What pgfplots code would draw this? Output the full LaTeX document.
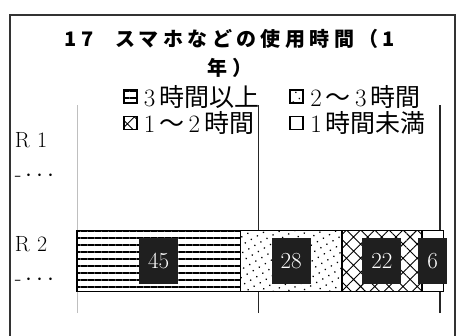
\documentclass[border=0pt]{standalone}
\usepackage{fontspec}
\usepackage{pgfplots}
\pgfplotsset{compat=1.18}
\usetikzlibrary{patterns.meta}
\newfontfamily\cjk{Noto Sans CJK JP}
\newfontfamily\cjktitle[LetterSpace=22]{Noto Sans CJK JP}

\pgfplotsset{
  base/.style={
    at={(77pt,-313pt)}, anchor=south west,
    scale only axis, width=363pt, height=208pt,
    xmin=0, xmax=100, ymin=-0.5, ymax=1.5, clip=false,
  },
}

\begin{document}
\begin{tikzpicture}[x=1pt,y=1pt]
\useasboundingbox (0,0) rectangle (462,-336);
\draw[black!80, line width=1.8pt] (10,-340) -- (10,-15) -- (455,-15) -- (455,-340);

\begin{axis}[
  base,
  xbar stacked, bar width=61pt,
  axis line style={draw=none},
  major tick length=0pt,
  xtick={50,100}, xticklabels={}, xmajorgrids,
  grid style={black!85, line width=1.6pt},
  extra x ticks={0}, extra x tick labels={},
  extra x tick style={grid style={black!25, line width=0.8pt}},
  ytick={0,1},
  yticklabels={{R 2\\-\,{\fontsize{30}{34}\selectfont$\cdots$}},{R 1\\-\,{\fontsize{30}{34}\selectfont$\cdots$}}},
  yticklabel style={align=left, text width=62pt, anchor=east, inner sep=0pt,
    font=\fontsize{22}{34}\selectfont},
  title={17\hspace{22pt}スマホなどの使用時間（1\\年）},
  title style={at={(axis description cs:0.421,1.35)}, anchor=north, align=center,
    font=\cjktitle\bfseries\fontsize{20}{29}\selectfont},
  legend columns=2,
  legend cell align=left,
  legend style={at={(axis description cs:0.118,1.115)}, anchor=north west,
    draw=none, fill=none, font=\fontsize{25}{25}\selectfont,
    /tikz/every odd column/.append style={column sep=4pt},
    /tikz/every even column/.append style={column sep=28pt}},
  legend image code/.code={\draw[#1, line width=1.8pt] (0pt,-6.5pt) rectangle (13pt,6.5pt);},
]
\addplot[draw=black, line width=1.5pt, preaction={fill=white},
  pattern={Lines[angle=0,distance=7pt,line width=1.6pt]}] coordinates {(45,0)};
\addlegendentry{3\,{\cjk 時間以上}}
\addplot[draw=black, line width=1.5pt, preaction={fill=white},
  pattern={Dots[distance=7pt,radius=0.9pt,angle=30]}] coordinates {(28,0)};
\addlegendentry{2\,{\cjk ～}\,3\,{\cjk 時間}}
\addplot[draw=black, line width=1.5pt, preaction={fill=white},
  pattern={Hatch[angle=45,distance=10pt,line width=0.9pt]}] coordinates {(22,0)};
\addlegendentry{1\,{\cjk ～}\,2\,{\cjk 時間}}
\addplot[draw=black, line width=1.5pt, fill=white] coordinates {(6,0)};
\addlegendentry{1\,{\cjk 時間未満}}
\end{axis}

\begin{axis}[base, hide axis]
\addplot[only marks, mark=none, nodes near coords, point meta=explicit symbolic,
  nodes near coords align=center,
  every node near coord/.append style={fill=black!88, text=white, anchor=center,
    inner xsep=9pt, minimum height=46pt, font=\fontsize{23}{23}\selectfont}]
  table[meta=lab] {
x y lab
22.5 0 45
59 0 28
84 0 22
98 0 6
};
\end{axis}
\end{tikzpicture}
\end{document}
